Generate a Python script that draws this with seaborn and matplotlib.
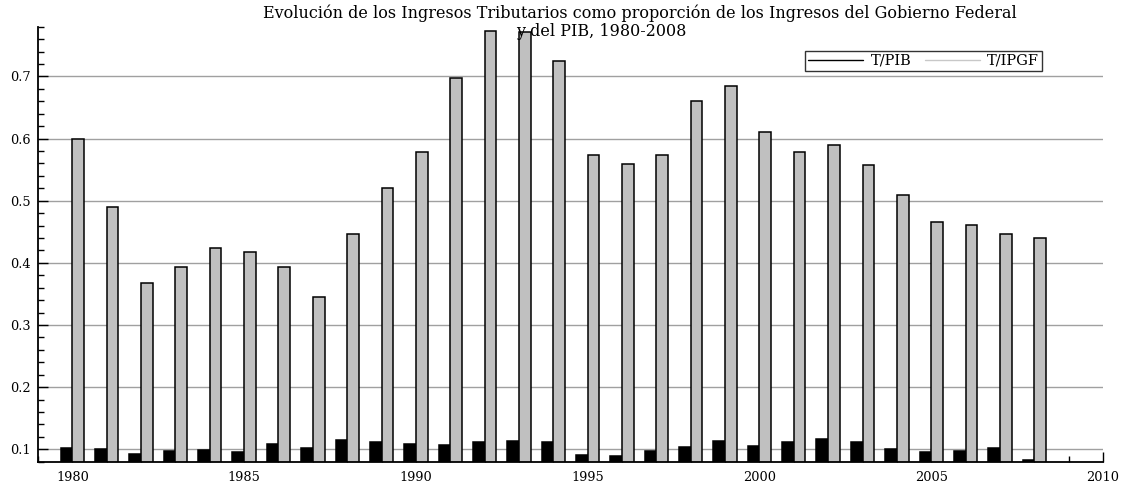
import matplotlib
matplotlib.use('Agg')
import matplotlib.pyplot as plt
from matplotlib.lines import Line2D
from matplotlib.ticker import MultipleLocator, FormatStrFormatter
import seaborn as sns
import pandas as pd

#------------ Data ------------#
years = list(range(1980, 2009))

t_pib = [0.102, 0.100, 0.093, 0.097, 0.098, 0.096, 0.109, 0.102, 0.115, 0.112,
         0.108, 0.107, 0.112, 0.114, 0.112, 0.091, 0.089, 0.097, 0.104, 0.113,
         0.106, 0.112, 0.116, 0.111, 0.100, 0.096, 0.097, 0.102, 0.082]

t_ipgf = [0.600, 0.490, 0.367, 0.394, 0.424, 0.417, 0.394, 0.345, 0.446, 0.521,
          0.578, 0.698, 0.773, 0.772, 0.725, 0.574, 0.559, 0.573, 0.661, 0.685,
          0.610, 0.578, 0.589, 0.558, 0.509, 0.466, 0.461, 0.446, 0.440]

series_names = ['T/PIB', 'T/IPGF']
title_line1 = 'Evolución de los Ingresos Tributarios como proporción de los Ingresos del Gobierno Federal'
title_line2 = 'y del PIB, 1980-2008'

# long format for seaborn
df = pd.DataFrame({
    'year': years * 2,
    'value': t_pib + t_ipgf,
    'serie': [series_names[0]] * len(years) + [series_names[1]] * len(years),
})

#------------ Style ------------#
sns.set_style('ticks')
plt.rcParams['font.family'] = ['DejaVu Serif']
plt.rcParams['text.color'] = 'black'
plt.rcParams['xtick.color'] = 'black'
plt.rcParams['ytick.color'] = 'black'

bar_colors = {'T/PIB': 'black', 'T/IPGF': '#c0c0c0'}

fig = plt.figure(figsize=(11.23, 4.83), dpi=100)
ax = fig.add_axes([38 / 1123, 1 - 462.3 / 483, (1103 - 38) / 1123, (462.3 - 26.7) / 483])

sns.barplot(data=df, x='year', y='value', hue='serie', native_scale=True,
            dodge=True, width=0.68, palette=bar_colors, saturation=1,
            edgecolor='black', linewidth=1.1, legend=False, ax=ax)

# axes limits and ticks
ax.set_xlim(1979, 2010)
ax.set_ylim(0.079, 0.78)
ax.xaxis.set_major_locator(MultipleLocator(5))
ax.xaxis.set_minor_locator(MultipleLocator(1))
ax.yaxis.set_major_locator(MultipleLocator(0.1))
ax.yaxis.set_minor_locator(MultipleLocator(0.02))
ax.yaxis.set_major_formatter(FormatStrFormatter('%.1f'))
ax.tick_params(axis='both', which='major', direction='in', length=7, width=1,
               labelsize=9.3, color='black', labelcolor='black')
ax.tick_params(axis='both', which='minor', direction='in', length=4, width=1, color='black')
ax.tick_params(axis='x', which='major', pad=6)
ax.tick_params(axis='y', which='major', pad=5)
ax.set_xlabel('')
ax.set_ylabel('')

# horizontal grid
ax.yaxis.grid(True, which='major', color='#a0a0a0', linewidth=1)
ax.xaxis.grid(False)
ax.set_axisbelow(True)

sns.despine(ax=ax, top=True, right=True)
ax.spines['left'].set_linewidth(1.3)
ax.spines['bottom'].set_linewidth(1.3)
ax.spines['left'].set_color('black')
ax.spines['bottom'].set_color('black')

# legend with line keys
handles = [Line2D([], [], color='black', linewidth=1),
           Line2D([], [], color='#c8c8c8', linewidth=1)]
leg = ax.legend(handles, series_names, ncol=2, loc='upper left',
                bbox_to_anchor=((805 - 38) / 1065, 1 - (50.7 - 26.7) / 435.6),
                frameon=True, fancybox=False, fontsize=10.5, handlelength=3.8,
                columnspacing=0.9, handletextpad=0.5, borderpad=0.2,
                borderaxespad=0)
leg.get_frame().set_edgecolor('black')
leg.get_frame().set_linewidth(1)

# two-line title, each line centered on its own
fig.text(640 / 1123, 1 - 13 / 483, title_line1, ha='center', va='center', fontsize=11.5)
fig.text(601 / 1123, 1 - 31 / 483, title_line2, ha='center', va='center', fontsize=11.5)

plt.savefig('out.png', dpi=100)
